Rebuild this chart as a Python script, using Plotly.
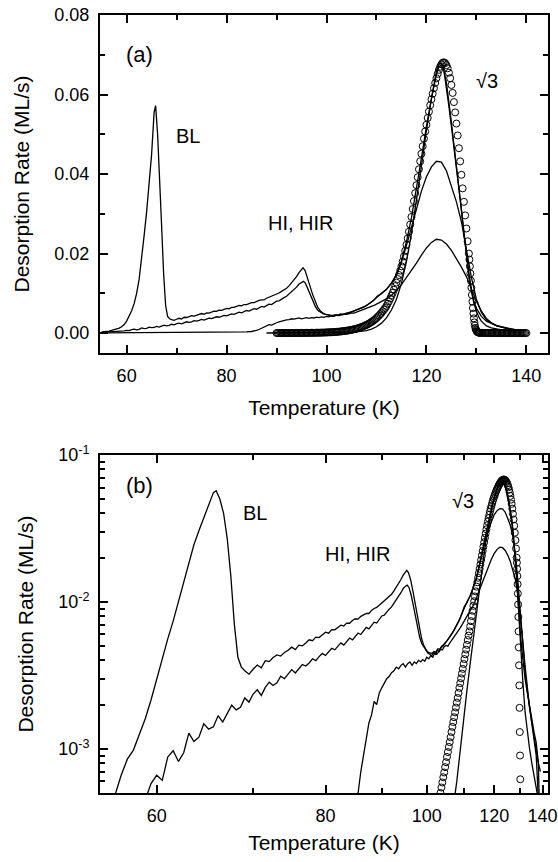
import plotly.graph_objects as go

# ---------------- data (temperature in K, desorption rate in ML/s) ----------------
# Curve with BL peak
A_T = [55.0, 55.5, 56.0, 56.5, 57.0, 57.5, 58.0, 58.5, 59.0, 59.5,
       60.0, 60.5, 61.0, 61.5, 62.0, 62.5, 63.0, 63.5, 64.0, 64.5,
       65.0, 65.5, 65.8, 66.2, 66.6, 67.0, 67.4, 67.8, 68.2, 68.6,
       69.0, 69.5, 70.0, 70.5, 71.0, 71.5, 72.0, 72.5, 73.0, 73.5,
       74.0, 74.5, 75.0, 75.5, 76.0, 76.5, 77.0, 77.5, 78.0, 78.5,
       79.0, 79.5, 80.0, 80.5, 81.0, 81.5, 82.0, 82.5, 83.0, 83.5,
       84.0, 84.5, 85.0, 85.5, 86.0, 86.5, 87.0, 87.5, 88.0, 88.5,
       89.0, 89.5, 90.0, 90.5, 91.0, 91.5, 92.0, 92.5, 93.0, 93.5,
       94.0, 94.5, 95.0, 95.3, 95.7, 96.2, 96.7, 97.2, 97.7, 98.2,
       98.7, 99.2, 99.7, 100.2, 100.7, 101.2, 101.7, 102.2, 102.7, 103.2,
       103.7, 104.2, 104.7, 105.2, 105.7, 106.2, 106.7, 107.2, 107.7, 108.2,
       108.7, 109.2, 109.7, 110.2, 111.0, 112.0, 113.0, 114.0, 115.0, 116.0,
       117.0, 118.0, 119.0, 120.0, 121.0, 121.5, 122.0, 122.5, 123.0, 123.5,
       124.0, 124.5, 125.0, 125.5, 126.0, 126.5, 127.0, 127.5, 128.0, 128.5,
       129.0, 129.5, 130.0, 131.0, 132.0, 133.0, 134.0, 135.0, 136.0, 137.0,
       138.0, 138.5]
A_V = [0.00030, 0.00034, 0.00040, 0.00048, 0.00066, 0.00085, 0.00098, 0.00125, 0.00160, 0.00215,
       0.00300, 0.00420, 0.00560, 0.00740, 0.01000, 0.01350, 0.01850, 0.02450, 0.03050, 0.03700,
       0.04500, 0.05550, 0.05720, 0.05000, 0.04000, 0.02700, 0.01500, 0.00700, 0.00420, 0.00360,
       0.00340, 0.00322, 0.00348, 0.00372, 0.00356, 0.00398, 0.00392, 0.00418, 0.00436, 0.00428,
       0.00452, 0.00468, 0.00492, 0.00474, 0.00508, 0.00502, 0.00526, 0.00552, 0.00544, 0.00576,
       0.00572, 0.00598, 0.00622, 0.00612, 0.00648, 0.00646, 0.00668, 0.00694, 0.00686, 0.00718,
       0.00716, 0.00748, 0.00768, 0.00764, 0.00798, 0.00822, 0.00836, 0.00834, 0.00876, 0.00902,
       0.00918, 0.00948, 0.00982, 0.01008, 0.01048, 0.01082, 0.01128, 0.01188, 0.01258, 0.01332,
       0.01420, 0.01520, 0.01600, 0.01640, 0.01580, 0.01400, 0.01180, 0.00980, 0.00800, 0.00660,
       0.00570, 0.00510, 0.00480, 0.00450, 0.00440, 0.00430, 0.00450, 0.00440, 0.00470, 0.00460,
       0.00490, 0.00500, 0.00520, 0.00540, 0.00560, 0.00580, 0.00610, 0.00640, 0.00670, 0.00710,
       0.00750, 0.00800, 0.00860, 0.00930, 0.00990, 0.01100, 0.01260, 0.01480, 0.01820, 0.02300,
       0.02900, 0.03600, 0.04400, 0.05200, 0.05900, 0.06300, 0.06600, 0.06800, 0.06780, 0.06600,
       0.06200, 0.05700, 0.05200, 0.04700, 0.04200, 0.03700, 0.03100, 0.02500, 0.01950, 0.01500,
       0.01100, 0.00800, 0.00620, 0.00420, 0.00300, 0.00240, 0.00190, 0.00160, 0.00130, 0.00110,
       0.00080, 0.00040]

# Curve with HI / HIR peak
B_T = [55.0, 56.0, 57.0, 58.0,
       59.0, 59.5, 60.0, 60.5, 61.0, 61.5, 62.0, 62.5, 63.0, 63.5,
       64.0, 64.5, 65.0, 65.5, 66.0, 66.5, 67.0, 67.5, 68.0, 68.5,
       69.0, 69.5, 70.0, 70.5, 71.0, 71.5, 72.0, 72.5, 73.0, 73.5,
       74.0, 74.5, 75.0, 75.5, 76.0, 76.5, 77.0, 77.5, 78.0, 78.5,
       79.0, 79.5, 80.0, 80.5, 81.0, 81.5, 82.0, 82.5, 83.0, 83.5,
       84.0, 84.5, 85.0, 85.5, 86.0, 86.5, 87.0, 87.5, 88.0, 88.5,
       89.0, 89.5, 90.0, 90.5, 91.0, 91.5, 92.0, 92.5, 93.0, 93.5,
       94.0, 94.5, 95.0, 95.4, 95.8,
       96.3, 96.8, 97.3, 97.8, 98.3, 98.8, 99.3, 99.8, 100.3,
       100.8, 101.3, 101.8, 102.3, 102.8, 103.3, 103.8, 104.3, 104.8, 105.3,
       105.8, 106.3, 106.8, 107.3, 107.8, 108.3, 108.8, 109.3, 109.8, 110.3,
       111.0, 112.0, 113.0, 114.0, 115.0, 116.0, 117.0, 118.0, 119.0, 120.0,
       121.0, 122.0, 123.0, 124.0, 125.0, 126.0, 127.0, 128.0, 129.0, 130.0,
       131.0, 132.0, 133.0, 134.0, 135.0, 136.0, 137.0, 137.5, 138.0]
B_V = [0.00020, 0.00025, 0.00030, 0.00036,
       0.00045, 0.00058, 0.00066, 0.00061, 0.00088, 0.00097, 0.00082, 0.00094, 0.00128, 0.00112,
       0.00120, 0.00148, 0.00136, 0.00141, 0.00168, 0.00152, 0.00175, 0.00198, 0.00184, 0.00192,
       0.00222, 0.00208, 0.00236, 0.00252, 0.00231, 0.00262, 0.00284, 0.00270, 0.00281, 0.00312,
       0.00300, 0.00322, 0.00346, 0.00328, 0.00352, 0.00375, 0.00366, 0.00384, 0.00410, 0.00398,
       0.00424, 0.00446, 0.00432, 0.00458, 0.00484, 0.00472, 0.00498, 0.00526, 0.00508, 0.00540,
       0.00568, 0.00552, 0.00585, 0.00614, 0.00600, 0.00636, 0.00670, 0.00655, 0.00695, 0.00728,
       0.00718, 0.00765, 0.00802, 0.00812, 0.00858, 0.00892, 0.00925, 0.00985, 0.01025, 0.01095,
       0.01155, 0.01235, 0.01280, 0.01300, 0.01250,
       0.01110, 0.00940, 0.00790, 0.00660, 0.00570, 0.00520, 0.00490, 0.00470, 0.00455,
       0.00450, 0.00445, 0.00460, 0.00455, 0.00480, 0.00475, 0.00500, 0.00510, 0.00530, 0.00545,
       0.00570, 0.00590, 0.00620, 0.00650, 0.00680, 0.00720, 0.00760, 0.00810, 0.00870, 0.00930,
       0.01000, 0.01100, 0.01250, 0.01450, 0.01780, 0.02200, 0.02680, 0.03150, 0.03570, 0.03930,
       0.04180, 0.04320, 0.04300, 0.04080, 0.03700, 0.03300, 0.02800, 0.02100, 0.01400, 0.00850,
       0.00520, 0.00340, 0.00250, 0.00190, 0.00150, 0.00120, 0.00090, 0.00065, 0.00045]

# Lowest-coverage curve
C_T = [55.0, 60.0, 65.0, 70.0, 75.0, 80.0, 82.0, 84.0,
       85.0, 85.5, 86.0, 86.5, 87.0, 87.5, 88.0, 88.5, 89.0, 89.5,
       90.0, 90.5, 91.0, 91.5, 92.0, 92.5, 93.0, 93.5, 94.0, 94.5,
       95.0, 95.5, 96.0, 96.5, 97.0, 97.5, 98.0, 98.5, 99.0, 99.5,
       100.0, 100.5, 101.0, 101.5, 102.0, 102.5, 103.0, 103.5, 104.0, 104.5,
       105.0, 105.5, 106.0, 106.5, 107.0, 107.5, 108.0, 108.5, 109.0, 109.5,
       110.0,
       111.0, 112.0, 113.0, 114.0, 115.0, 116.0, 117.0, 118.0, 119.0, 120.0,
       121.0, 122.0, 123.0, 124.0, 125.0, 126.0, 127.0, 128.0, 129.0, 130.0,
       131.0, 132.0, 133.0, 134.0, 135.0, 136.0, 137.0, 138.0, 139.0]
C_V = [0.00005, 0.00006, 0.00007, 0.00008, 0.00009, 0.00011, 0.00016, 0.00028,
       0.00040, 0.00050, 0.00070, 0.00090, 0.00120, 0.00150, 0.00170, 0.00210, 0.00200, 0.00240,
       0.00260, 0.00280, 0.00300, 0.00310, 0.00330, 0.00340, 0.00360, 0.00350, 0.00370, 0.00380,
       0.00360, 0.00380, 0.00390, 0.00370, 0.00390, 0.00380, 0.00400, 0.00390, 0.00405, 0.00395,
       0.00420, 0.00410, 0.00430, 0.00420, 0.00450, 0.00440, 0.00460, 0.00475, 0.00470, 0.00495,
       0.00505, 0.00500, 0.00525, 0.00545, 0.00565, 0.00585, 0.00610, 0.00640, 0.00665, 0.00695,
       0.00730,
       0.00790, 0.00860, 0.00950, 0.01070, 0.01220, 0.01390, 0.01570, 0.01760, 0.01960, 0.02140,
       0.02280, 0.02360, 0.02340, 0.02240, 0.02080, 0.01880, 0.01660, 0.01420, 0.01120, 0.00800,
       0.00550, 0.00370, 0.00260, 0.00190, 0.00150, 0.00120, 0.00100, 0.00080, 0.00070]

# sqrt3-only curve
D_T = [88.0, 95.0, 100.0, 102.0,
       104.0, 105.0, 106.0, 107.0, 108.0, 109.0, 110.0, 111.0, 112.0, 113.0,
       114.0, 115.0, 116.0, 117.0, 118.0, 119.0, 120.0, 121.0, 122.0,
       122.5, 123.0, 123.5, 124.0, 124.5, 125.0, 125.5, 126.0, 126.5, 127.0,
       127.5, 128.0, 128.5, 129.0, 129.5, 130.0, 130.5, 131.0,
       132.0, 133.0, 134.0, 135.0, 136.0, 137.0, 138.0]
D_V = [0.00002, 0.00004, 0.00008, 0.00012,
       0.00018, 0.00023, 0.00030, 0.00040, 0.00060, 0.00100, 0.00160, 0.00250, 0.00380, 0.00580,
       0.00850, 0.01250, 0.01800, 0.02500, 0.03300, 0.04200, 0.05100, 0.05900, 0.06500,
       0.06700, 0.06750, 0.06600, 0.06300, 0.05850, 0.05300, 0.04750, 0.04200, 0.03650, 0.03050,
       0.02450, 0.01900, 0.01450, 0.01050, 0.00750, 0.00550, 0.00400, 0.00300,
       0.00180, 0.00130, 0.00100, 0.00080, 0.00065, 0.00055, 0.00045]

# Simulation (open circles)
S_T = [90.0, 90.25, 90.5, 90.75, 91.0, 91.25, 91.5, 91.75, 92.0, 92.25,
       92.5, 92.75, 93.0, 93.25, 93.5, 93.75, 94.0, 94.25, 94.5, 94.75,
       95.0, 95.25, 95.5, 95.75, 96.0, 96.25, 96.5, 96.75, 97.0, 97.25,
       97.5, 97.75, 98.0, 98.25, 98.5, 98.75, 99.0, 99.25, 99.5, 99.75,
       100.0, 100.25, 100.5, 100.75, 101.0, 101.25, 101.5, 101.75, 102.0, 102.25,
       102.5, 102.75, 103.0, 103.25, 103.5,
       103.75, 104.0, 104.25, 104.5, 104.75, 105.0, 105.25, 105.5, 105.75, 106.0,
       106.25, 106.5, 106.75, 107.0, 107.25, 107.5, 107.75, 108.0, 108.25, 108.5,
       108.75, 109.0, 109.25, 109.5, 109.75, 110.0, 110.25, 110.5, 110.75, 111.0,
       111.25, 111.5, 111.75, 112.0,
       112.25, 112.5, 112.75, 113.0, 113.25, 113.5, 113.75, 114.0,
       114.25, 114.5, 114.75, 115.0, 115.25, 115.5, 115.75, 116.0,
       116.25, 116.5, 116.75, 117.0, 117.25, 117.5, 117.75, 118.0,
       118.25, 118.5, 118.75, 119.0, 119.25, 119.5, 119.75, 120.0,
       120.25, 120.5, 120.75, 121.0, 121.25, 121.5, 121.75, 122.0,
       122.25, 122.5, 122.75, 123.0, 123.25, 123.5, 123.75, 124.0,
       124.25, 124.5, 124.75, 125.0, 125.25, 125.5, 125.75, 126.0,
       126.25, 126.5, 126.75, 127.0, 127.25, 127.5, 127.75, 128.0,
       128.25, 128.5,
       128.6, 128.7, 128.8, 128.9, 129.0, 129.1, 129.2, 129.3, 129.4, 129.5,
       129.6, 129.7, 129.8, 129.9, 130.0, 130.1, 130.2, 130.3, 130.4, 130.5, 130.6,
       130.75, 131.0, 131.25, 131.5, 131.75, 132.0, 132.25, 132.5, 132.75, 133.0,
       133.25, 133.5, 133.75, 134.0, 134.25, 134.5, 134.75, 135.0, 135.25, 135.5,
       135.75, 136.0, 136.25, 136.5, 136.75, 137.0, 137.25, 137.5, 137.75, 138.0,
       138.25, 138.5, 138.75, 139.0, 139.25, 139.5, 139.75, 140.0]
S_V = [7.0e-6, 7.5e-6, 8.0e-6, 9.0e-6, 1.0e-5, 1.05e-5, 1.1e-5, 1.2e-5, 1.3e-5, 1.4e-5,
       1.5e-5, 1.6e-5, 1.7e-5, 1.85e-5, 2.0e-5, 2.2e-5, 2.4e-5, 2.6e-5, 2.8e-5, 3.0e-5,
       3.3e-5, 3.5e-5, 3.8e-5, 4.1e-5, 4.5e-5, 4.9e-5, 5.3e-5, 5.7e-5, 6.2e-5, 6.7e-5,
       7.2e-5, 7.8e-5, 8.5e-5, 9.2e-5, 1.0e-4, 1.07e-4, 1.15e-4, 1.25e-4, 1.35e-4, 1.47e-4,
       1.6e-4, 1.75e-4, 1.9e-4, 2.05e-4, 2.2e-4, 2.4e-4, 2.6e-4, 2.85e-4, 3.1e-4, 3.35e-4,
       3.6e-4, 3.95e-4, 4.3e-4, 4.65e-4, 5.0e-4,
       5.45e-4, 5.9e-4, 6.4e-4, 6.9e-4, 7.5e-4, 8.1e-4, 8.8e-4, 9.5e-4, 1.03e-3, 1.11e-3,
       1.2e-3, 1.3e-3, 1.41e-3, 1.52e-3, 1.64e-3, 1.77e-3, 1.91e-3, 2.06e-3, 2.22e-3, 2.4e-3,
       2.6e-3, 2.8e-3, 3.02e-3, 3.25e-3, 3.5e-3, 3.78e-3, 4.08e-3, 4.4e-3, 4.74e-3, 5.1e-3,
       5.5e-3, 5.9e-3, 6.3e-3, 6.8e-3,
       0.0074, 0.0080, 0.0087, 0.0094, 0.0101, 0.0109, 0.0118, 0.0127,
       0.0136, 0.0146, 0.0157, 0.0168, 0.0180, 0.0193, 0.0207, 0.0222,
       0.0238, 0.0255, 0.0273, 0.0292, 0.0312, 0.0332, 0.0352, 0.0372,
       0.0392, 0.0412, 0.0432, 0.0451, 0.0470, 0.0489, 0.0507, 0.0524,
       0.0541, 0.0557, 0.0573, 0.0588, 0.0602, 0.0616, 0.0629, 0.0641,
       0.0652, 0.0662, 0.0670, 0.0676, 0.0680, 0.0681, 0.0679, 0.0674,
       0.0666, 0.0655, 0.0641, 0.0624, 0.0604, 0.0581, 0.0555, 0.0527,
       0.0497, 0.0465, 0.0432, 0.0398, 0.0364, 0.0330, 0.0296, 0.0263,
       0.0231, 0.0200,
       0.0185, 0.0168, 0.0150, 0.0132, 0.0114, 0.0096, 0.0079, 0.0063, 0.0049, 0.0037,
       0.0027, 0.0019, 0.0013, 0.00090, 0.00062, 0.00043, 0.00030, 0.00021, 0.00015, 0.00011, 0.00008,
       6.0e-5, 5.0e-5, 4.5e-5, 4.0e-5, 3.5e-5, 3.2e-5, 3.0e-5, 2.8e-5, 2.6e-5, 2.4e-5,
       2.2e-5, 2.1e-5, 2.0e-5, 1.9e-5, 1.8e-5, 1.7e-5, 1.6e-5, 1.5e-5, 1.45e-5, 1.4e-5,
       1.35e-5, 1.3e-5, 1.25e-5, 1.2e-5, 1.15e-5, 1.1e-5, 1.05e-5, 1.0e-5, 9.8e-6, 9.6e-6,
       9.4e-6, 9.2e-6, 9.0e-6, 8.8e-6, 8.6e-6, 8.4e-6, 8.2e-6, 8.0e-6]

for name, t, v in [("A", A_T, A_V), ("B", B_T, B_V), ("C", C_T, C_V), ("D", D_T, D_V), ("S", S_T, S_V)]:
    assert len(t) == len(v), f"{name}: {len(t)} temperatures vs {len(v)} values"

# tick labels
LIN_YTICKS = [0.00, 0.02, 0.04, 0.06, 0.08]
LIN_YTEXT = ["0.00", "0.02", "0.04", "0.06", "0.08"]
LIN_YMINOR = [0.01, 0.03, 0.05, 0.07]
T_TICKS = [60, 80, 100, 120, 140]
T_MINOR = [70, 90, 110, 130]
LOG_YTICKS = [1e-3, 1e-2, 1e-1]
LOG_YTEXT = ["10<sup>-3</sup>", "10<sup>-2</sup>", "10<sup>-1</sup>"]
LOG_YMINOR = [m * 10.0 ** e for e in (-4, -3, -2) for m in range(2, 10)]

# ---------------- figure ----------------
FONT = "Liberation Sans, Arial, sans-serif"
LINE = dict(color="black", width=1.3)


def inv(ts):
    # reciprocal-temperature axis of panel (b)
    return [-1000.0 / t for t in ts]


fig = go.Figure()
for t, v in [(A_T, A_V), (B_T, B_V), (C_T, C_V), (D_T, D_V)]:
    fig.add_trace(go.Scatter(x=t, y=v, mode="lines", line=LINE, xaxis="x", yaxis="y",
                             showlegend=False, hoverinfo="skip"))
    fig.add_trace(go.Scatter(x=inv(t), y=v, mode="lines", line=LINE, xaxis="x2", yaxis="y2",
                             showlegend=False, hoverinfo="skip"))

CIRC = dict(symbol="circle-open", size=7, color="black", line=dict(width=1, color="black"))
fig.add_trace(go.Scatter(x=S_T, y=S_V, mode="markers", marker=CIRC, xaxis="x", yaxis="y",
                         showlegend=False, hoverinfo="skip"))
fig.add_trace(go.Scatter(x=inv(S_T), y=S_V, mode="markers", marker=CIRC, xaxis="x2", yaxis="y2",
                         showlegend=False, hoverinfo="skip"))

common = dict(showline=True, linecolor="black", linewidth=2, mirror="ticks",
              ticks="inside", ticklen=8, tickwidth=1.5, tickcolor="black",
              showgrid=False, zeroline=False, automargin=False,
              tickfont=dict(family=FONT, size=18, color="black"),
              ticklabelstandoff=5, ticklabeloverflow="allow")
minor_style = dict(ticks="inside", ticklen=5, tickwidth=1.5, tickcolor="black", showgrid=False)
title_font = dict(family=FONT, size=21, color="black")

fig.update_layout(
    width=558, height=862,
    margin=dict(l=100, r=10, t=15, b=69),
    paper_bgcolor="white", plot_bgcolor="white",
    showlegend=False,
    xaxis=dict(domain=[0, 1], anchor="y", range=[54.67, 144.33],
               tickvals=T_TICKS, ticktext=[str(v) for v in T_TICKS],
               minor=dict(tickvals=T_MINOR, **minor_style),
               title=dict(text="Temperature (K)", font=title_font, standoff=16),
               **common),
    yaxis=dict(domain=[0.5656, 1], anchor="x", range=[-0.005, 0.08],
               tickvals=LIN_YTICKS, ticktext=LIN_YTEXT,
               minor=dict(tickvals=LIN_YMINOR, **minor_style),
               title=dict(text="Desorption Rate (ML/s)", font=title_font, standoff=19),
               **common),
    xaxis2=dict(domain=[0, 1], anchor="y2", range=[-18.066, -7.008],
                tickvals=inv(T_TICKS), ticktext=[str(v) for v in T_TICKS],
                minor=dict(tickvals=inv(T_MINOR), **minor_style),
                title=dict(text="Temperature (K)", font=title_font, standoff=11),
                **common),
    yaxis2=dict(domain=[0, 0.4344], anchor="x2", type="log", range=[-3.301, -1],
                tickvals=LOG_YTICKS, ticktext=LOG_YTEXT,
                minor=dict(tickvals=LOG_YMINOR, ticks="inside", ticklen=5, tickwidth=1.5,
                           tickcolor="black", showgrid=False),
                title=dict(text="Desorption Rate (ML/s)", font=title_font, standoff=19),
                **common),
)

ann_font = dict(family=FONT, size=20, color="black")
label_font = dict(family=FONT, size=22, color="black")
annotations = [
    dict(text="(a)", x=62.5, y=0.070, xref="x", yref="y", font=label_font),
    dict(text="BL", x=72.3, y=0.0495, xref="x", yref="y", font=ann_font),
    dict(text="HI, HIR", x=94.8, y=0.0278, xref="x", yref="y", font=ann_font),
    dict(text="\u221a3", x=132.1, y=0.0633, xref="x", yref="y", font=ann_font),
    dict(text="(b)", x=-17.099, y=-1.21, xref="x2", yref="y2", font=label_font),
    dict(text="BL", x=-14.241, y=-1.397, xref="x2", yref="y2", font=ann_font),
    dict(text="HI, HIR", x=-11.691, y=-1.676, xref="x2", yref="y2", font=ann_font),
    dict(text="\u221a3", x=-9.101, y=-1.312, xref="x2", yref="y2", font=ann_font),
]
for a in annotations:
    a.update(showarrow=False, xanchor="center", yanchor="middle")
fig.update_layout(annotations=annotations)

# the page's default 8px body margin would shift the 558x862 figure out of the window
fig.write_html("out.html", config={"displayModeBar": False},
               post_script="document.body.style.margin='0';")
